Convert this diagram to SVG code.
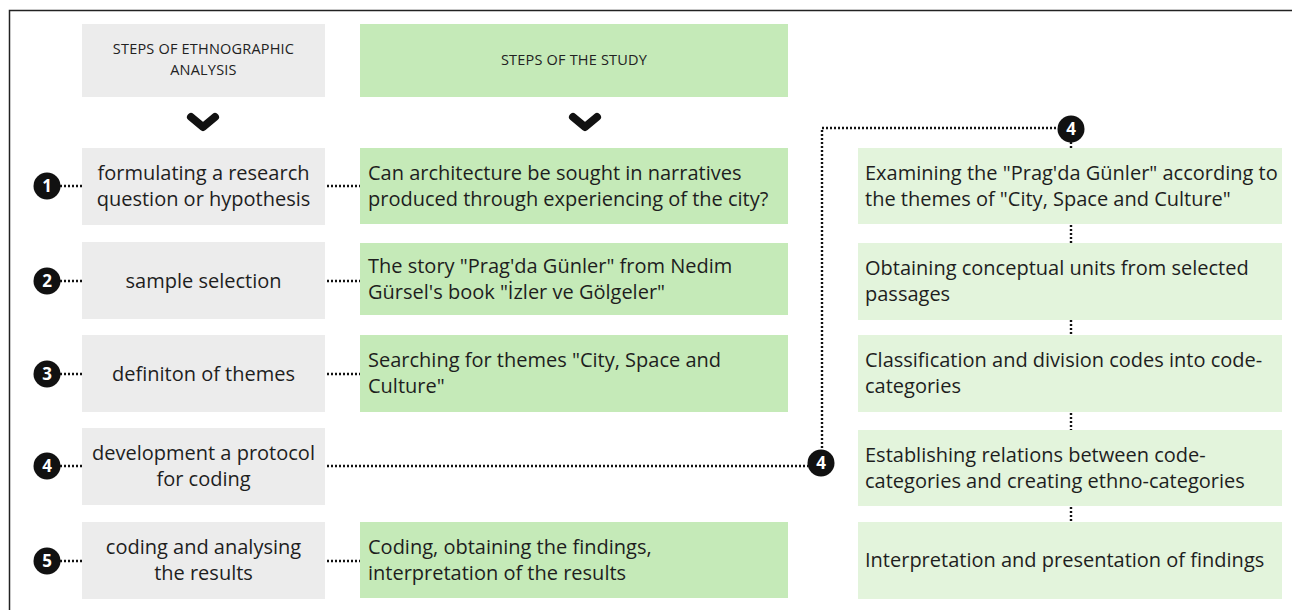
<svg xmlns="http://www.w3.org/2000/svg" width="1292" height="610" viewBox="0 0 1292 610">
  <style>
    .bg { fill: #ffffff; }
    .frame { stroke: #222; stroke-width: 1.5; fill: none; }
    .gray { fill: #ececec; }
    .green { fill: #c5eab8; }
    .pale { fill: #e3f4dc; }
    .t { font-family: "Open Sans", "Liberation Sans", sans-serif; font-size: 20px; fill: #1e1e1e; }
    .c { text-anchor: middle; }
    .hd { font-family: "Open Sans", "Liberation Sans", sans-serif; font-size: 14.5px; fill: #222; text-anchor: middle; letter-spacing: 0.2px; }
    .dot { stroke: #111; stroke-width: 2.4; stroke-dasharray: 2 2; fill: none; }
    .badge circle { fill: #111; }
    .badge text { font-family: "Open Sans", "Liberation Sans", sans-serif; font-size: 17px; font-weight: 700; fill: #fff; text-anchor: middle; }
    .chev { stroke: #111; stroke-width: 8; stroke-linecap: round; stroke-linejoin: round; fill: none; }
  </style>

  <rect class="bg" x="0" y="0" width="1292" height="610"/>
  <path class="frame" d="M9.5 610 V10.5 H1292"/>

  <!-- column headers -->
  <g id="header-ethnographic">
    <rect class="gray" x="82" y="24" width="243" height="73"/>
    <text class="hd" x="203.5" y="54">STEPS OF ETHNOGRAPHIC</text>
    <text class="hd" x="203.5" y="75">ANALYSIS</text>
    <polyline class="chev" points="191,117 203,127 215,117"/>
  </g>
  <g id="header-study">
    <rect class="green" x="360" y="24" width="428" height="73"/>
    <text class="hd" x="574" y="65">STEPS OF THE STUDY</text>
    <polyline class="chev" points="573,117 585,127 597,117"/>
  </g>

  <!-- connectors -->
  <g id="connectors">
    <line class="dot" x1="60" y1="186" x2="82" y2="186"/>
    <line class="dot" x1="60" y1="281" x2="82" y2="281"/>
    <line class="dot" x1="60" y1="374" x2="82" y2="374"/>
    <line class="dot" x1="60" y1="466" x2="82" y2="466"/>
    <line class="dot" x1="60" y1="561" x2="82" y2="561"/>

    <line class="dot" x1="327" y1="186" x2="360" y2="186"/>
    <line class="dot" x1="327" y1="281" x2="360" y2="281"/>
    <line class="dot" x1="327" y1="374" x2="360" y2="374"/>
    <line class="dot" x1="327" y1="561" x2="360" y2="561"/>

    <line class="dot" x1="327" y1="466" x2="808" y2="466"/>
    <polyline class="dot" points="822,452 822,128 1058,128"/>

    <line class="dot" x1="1071" y1="142" x2="1071" y2="148"/>
    <line class="dot" x1="1071" y1="225" x2="1071" y2="243"/>
    <line class="dot" x1="1071" y1="320" x2="1071" y2="335"/>
    <line class="dot" x1="1071" y1="413" x2="1071" y2="430"/>
    <line class="dot" x1="1071" y1="507" x2="1071" y2="522"/>
  </g>

  <!-- badges -->
  <g id="badge-1" class="badge"><circle cx="47" cy="186" r="13.5"/><text x="47" y="192">1</text></g>
  <g id="badge-2" class="badge"><circle cx="47" cy="281" r="13.5"/><text x="47" y="287">2</text></g>
  <g id="badge-3" class="badge"><circle cx="47" cy="374" r="13.5"/><text x="47" y="380">3</text></g>
  <g id="badge-4" class="badge"><circle cx="47" cy="466" r="13.5"/><text x="47" y="472">4</text></g>
  <g id="badge-5" class="badge"><circle cx="47" cy="561" r="13.5"/><text x="47" y="567">5</text></g>
  <g id="badge-4-mid" class="badge"><circle cx="821" cy="463" r="13.5"/><text x="821" y="469">4</text></g>
  <g id="badge-4-top" class="badge"><circle cx="1071" cy="129" r="13.5"/><text x="1071" y="135">4</text></g>

  <!-- ethnographic analysis steps -->
  <g id="step-1">
    <rect class="gray" x="82" y="148" width="243" height="77"/>
    <text class="t c" x="203.5" y="180">formulating a research</text>
    <text class="t c" x="203.5" y="206">question or hypothesis</text>
  </g>
  <g id="step-2">
    <rect class="gray" x="82" y="242" width="243" height="77"/>
    <text class="t c" x="203.5" y="288">sample selection</text>
  </g>
  <g id="step-3">
    <rect class="gray" x="82" y="335" width="243" height="77"/>
    <text class="t c" x="203.5" y="381">definiton of themes</text>
  </g>
  <g id="step-4">
    <rect class="gray" x="82" y="428" width="243" height="77"/>
    <text class="t c" x="203.5" y="460">development a protocol</text>
    <text class="t c" x="203.5" y="486">for coding</text>
  </g>
  <g id="step-5">
    <rect class="gray" x="82" y="522" width="243" height="77"/>
    <text class="t c" x="203.5" y="554">coding and analysing</text>
    <text class="t c" x="203.5" y="580">the results</text>
  </g>

  <!-- study steps -->
  <g id="study-1">
    <rect class="green" x="360" y="148" width="428" height="76"/>
    <text class="t" x="368" y="180">Can architecture be sought in narratives</text>
    <text class="t" x="368" y="206">produced through experiencing of the city?</text>
  </g>
  <g id="study-2">
    <rect class="green" x="360" y="243" width="428" height="72"/>
    <text class="t" x="368" y="273">The story "Prag'da Günler" from Nedim</text>
    <text class="t" x="368" y="299">Gürsel's book "İzler ve Gölgeler"</text>
  </g>
  <g id="study-3">
    <rect class="green" x="360" y="335" width="428" height="77"/>
    <text class="t" x="368" y="367">Searching for themes "City, Space and</text>
    <text class="t" x="368" y="393">Culture"</text>
  </g>
  <g id="study-5">
    <rect class="green" x="360" y="522" width="428" height="76"/>
    <text class="t" x="368" y="554">Coding, obtaining the findings,</text>
    <text class="t" x="368" y="580">interpretation of the results</text>
  </g>

  <!-- coding protocol sub-steps -->
  <g id="protocol-1">
    <rect class="pale" x="858" y="148" width="424" height="76"/>
    <text class="t" x="865" y="180">Examining the "Prag'da Günler" according to</text>
    <text class="t" x="865" y="206">the themes of "City, Space and Culture"</text>
  </g>
  <g id="protocol-2">
    <rect class="pale" x="858" y="243" width="424" height="77"/>
    <text class="t" x="865" y="275">Obtaining conceptual units from selected</text>
    <text class="t" x="865" y="301">passages</text>
  </g>
  <g id="protocol-3">
    <rect class="pale" x="858" y="335" width="424" height="77"/>
    <text class="t" x="865" y="367">Classification and division codes into code-</text>
    <text class="t" x="865" y="393">categories</text>
  </g>
  <g id="protocol-4">
    <rect class="pale" x="858" y="430" width="424" height="76"/>
    <text class="t" x="865" y="462">Establishing relations between code-</text>
    <text class="t" x="865" y="488">categories and creating ethno-categories</text>
  </g>
  <g id="protocol-5">
    <rect class="pale" x="858" y="522" width="424" height="77"/>
    <text class="t" x="865" y="567">Interpretation and presentation of findings</text>
  </g>
</svg>
